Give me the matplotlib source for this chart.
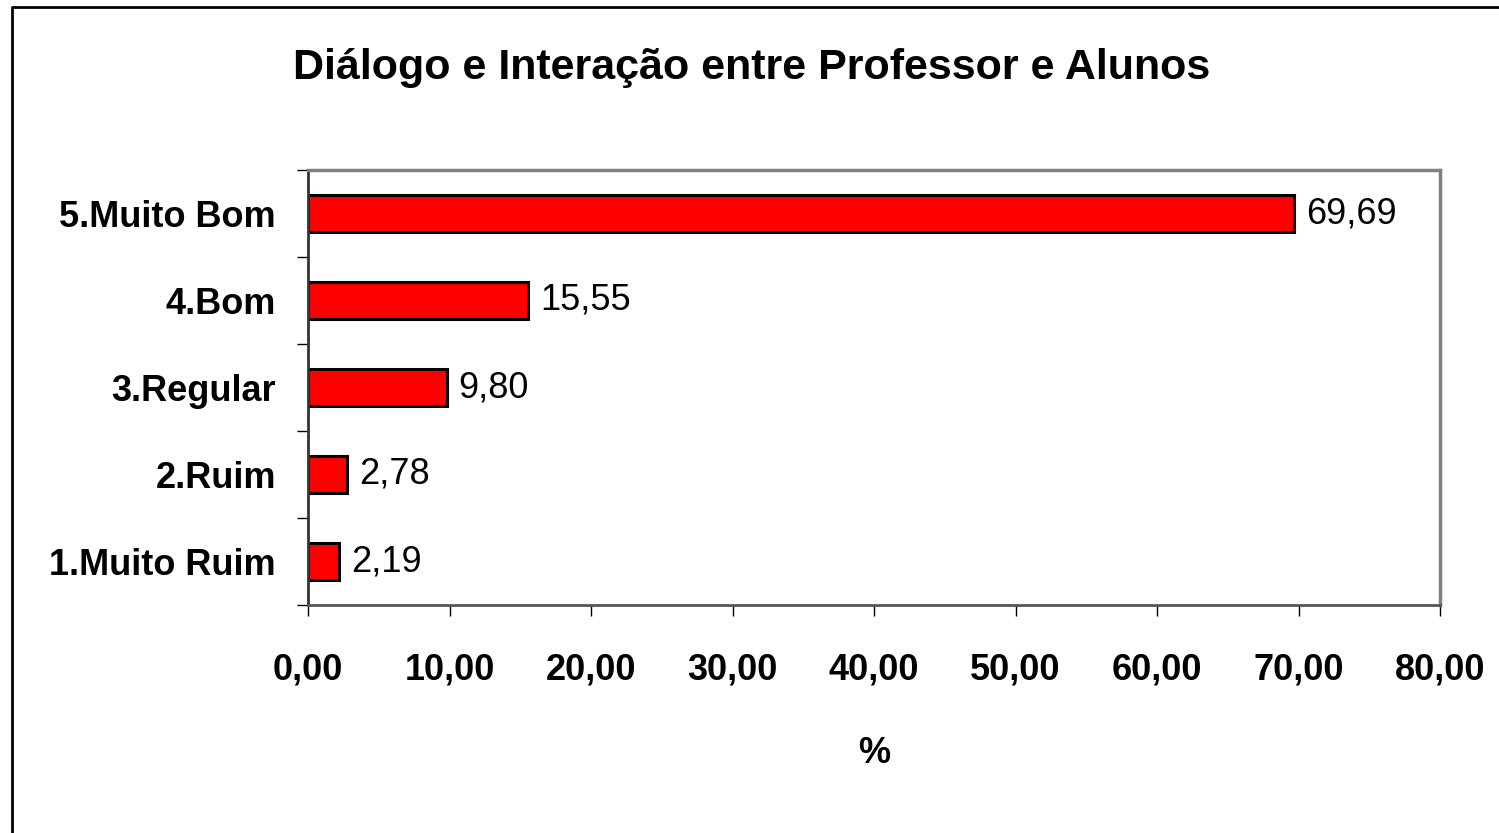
import matplotlib
matplotlib.use("Agg")
import matplotlib.pyplot as plt
from matplotlib import font_manager
from matplotlib.lines import Line2D

categorias = ['1.Muito Ruim', '2.Ruim', '3.Regular', '4.Bom', '5.Muito Bom']
valores = [2.19, 2.78, 9.80, 15.55, 69.69]
xticks = [0, 10, 20, 30, 40, 50, 60, 70, 80]

nomes = {f.name for f in font_manager.fontManager.ttflist}
fonte = 'Liberation Sans Narrow' if 'Liberation Sans Narrow' in nomes else 'Liberation Sans'
plt.rcParams['font.family'] = [fonte, 'DejaVu Sans']

fig = plt.figure(figsize=(14.99, 8.33), dpi=100)
ax = fig.add_axes([308 / 1499, 1 - 605 / 833, (1440 - 308) / 1499, (605 - 170) / 833])

ypos = list(range(len(categorias)))
ax.barh(ypos, valores, height=0.43, color='#ff0000', edgecolor='black', linewidth=2.2)
for y, v in zip(ypos, valores):
    ax.text(v + 0.85, y, f'{v:.2f}'.replace('.', ','), va='center', ha='left', fontsize=26)

ax.set_xlim(0, 80)
ax.set_ylim(-0.5, 4.5)
ax.set_xticks(xticks)
ax.set_xticklabels([f'{t:.2f}'.replace('.', ',') for t in xticks], fontsize=26, fontweight='bold')
ax.set_yticks(ypos)
ax.set_yticklabels(categorias, fontsize=26, fontweight='bold')
ax.set_yticks([y - 0.5 for y in range(len(categorias) + 1)], minor=True)
ax.tick_params(axis='y', which='major', length=0, pad=23)
ax.tick_params(axis='y', which='minor', length=8, width=1, direction='out')
ax.tick_params(axis='x', length=8, width=1, direction='out', pad=26)

for s in ['top', 'right']:
    ax.spines[s].set_color('#808080')
    ax.spines[s].set_linewidth(2.5)
ax.spines['bottom'].set_color('#555555')
ax.spines['bottom'].set_linewidth(2)
ax.spines['left'].set_color('#333333')
ax.spines['left'].set_linewidth(2)

ax.set_xlabel('%', fontsize=26, fontweight='bold', labelpad=35)
fig.text(752 / 1499, 1 - 68 / 833, 'Diálogo e Interação entre Professor e Alunos',
         ha='center', va='center', fontsize=31, fontweight='bold')

x0, y0 = 12 / 1499, 1 - 7 / 833
fig.add_artist(Line2D([x0, x0, 1], [0, y0, y0], transform=fig.transFigure, color='black', linewidth=2))

fig.savefig('out.png', dpi=100)
